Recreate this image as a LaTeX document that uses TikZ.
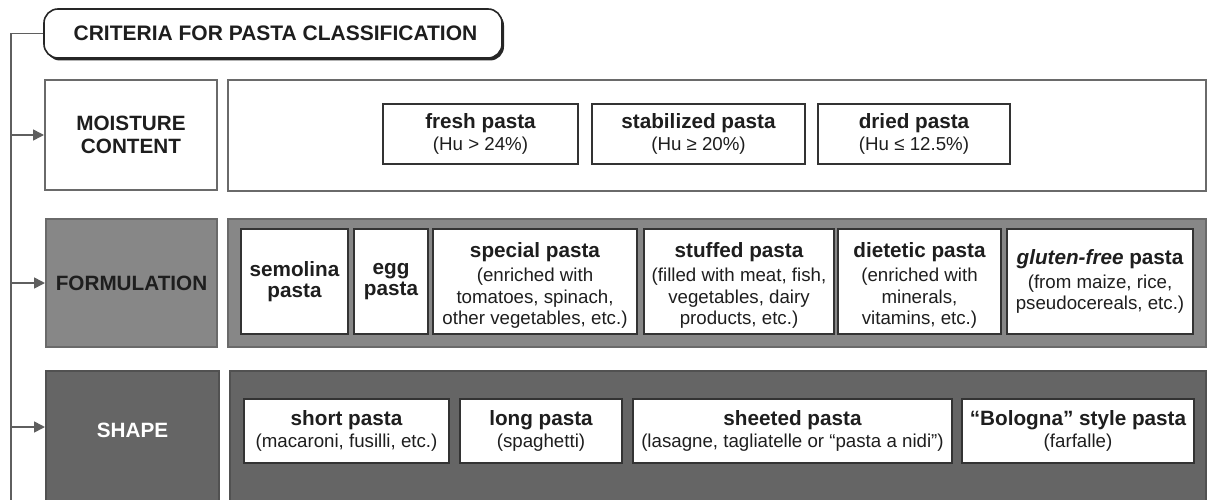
\documentclass[tikz,border=0pt]{standalone}
\usepackage{fontspec}
\setmainfont{Liberation Sans}
\usetikzlibrary{arrows.meta,shadows}
\definecolor{txt}{HTML}{1E1E1E}
\definecolor{edge}{HTML}{6A6A6A}
\definecolor{inedge}{HTML}{333333}
\definecolor{midgray}{HTML}{878787}
\definecolor{dkgray}{HTML}{656565}
\newcommand\subsz{\fontsize{18.7}{21.7}\selectfont}
\newcommand\ttl[1]{{\fontsize{20.7}{24}\selectfont\bfseries #1}}
\begin{document}
\begin{tikzpicture}[x=1pt,y=-1pt,
  outer/.style={draw=edge,line width=2pt,rectangle,inner sep=0pt},
  inbox/.style={draw=inedge,line width=1.3pt,fill=white,rectangle,inner sep=0pt,align=center,text=txt,font=\subsz,
    drop shadow={shadow xshift=1.3pt,shadow yshift=-1.3pt,fill=black,opacity=0.6}},
  intext/.style={inner sep=0pt,align=center,text=txt,font=\subsz},
  lab/.style={font=\fontsize{20.7}{23}\selectfont\bfseries,align=center},
  spine/.style={draw=edge!90!black,line width=1.6pt},
  arr/.style={draw=edge!90!black,fill=edge!90!black,line width=1.6pt,-{Triangle[length=11pt,width=11pt]}},
  ]
\useasboundingbox (0,0) rectangle (1209,500);
\clip (0,0) rectangle (1209,500);
\fill[white] (0,0) rectangle (1209,500);

% title
\node[draw=black!85,line width=1.6pt,rounded corners=14pt,fill=white,minimum width=458pt,minimum height=49pt,
  font=\fontsize{21}{24}\selectfont\bfseries,text=txt,
  drop shadow={shadow xshift=2pt,shadow yshift=-2.5pt,fill=black,opacity=0.85}] (title) at (273,33.5)
  {\hspace*{5pt}CRITERIA FOR PASTA CLASSIFICATION};

% moisture row
\node[outer,fill=white,minimum width=172pt,minimum height=110pt,lab,text=txt] (ml) at (131,135) {MOISTURE\\CONTENT};
\node[outer,fill=white,minimum width=978pt,minimum height=111pt] (mc) at (717,135.5) {};
\node[inbox,minimum width=195pt,minimum height=60pt] (fresh) at (480.5,134) {\ttl{fresh pasta}\\(Hu > 24\%)};
\node[inbox,minimum width=213pt,minimum height=60pt] (stab) at (698.5,134) {\ttl{stabilized pasta}\\(Hu ≥ 20\%)};
\node[inbox,minimum width=192pt,minimum height=60pt] (dried) at (914,134) {\ttl{dried pasta}\\(Hu ≤ 12.5\%)};

% formulation row
\node[outer,fill=midgray,minimum width=171pt,minimum height=128pt,lab,text=txt] (fl) at (131.5,283) {FORMULATION};
\node[outer,fill=midgray,minimum width=978pt,minimum height=128pt] (fc) at (717,283) {};
\node[inbox,minimum width=107pt,minimum height=105pt] (sem) at (294.5,281.5) {\ttl{semolina}\\[0pt]\ttl{pasta}};
\node[inbox,minimum width=74pt,minimum height=105pt] (egg) at (391,281.5) {\ttl{egg}\\[0pt]\ttl{pasta}};
\node[inbox,minimum width=204pt,minimum height=105pt] (spec) at (535,281.5) {};
\node[intext] (spect) at (535,285.5) {\ttl{special pasta}\\[2.3pt](enriched with\\tomatoes, spinach,\\other vegetables, etc.)};
\node[inbox,minimum width=190pt,minimum height=105pt] (stuf) at (739,281.5) {};
\node[intext] (stuft) at (739,285.5) {\ttl{stuffed pasta}\\[2.3pt](filled with meat, fish,\\vegetables, dairy\\products, etc.)};
\node[inbox,minimum width=163pt,minimum height=105pt] (diet) at (919.5,281.5) {};
\node[intext] (dietx) at (919.5,285.5) {\ttl{dietetic pasta}\\[2.3pt](enriched with\\minerals,\\vitamins, etc.)};
\node[inbox,minimum width=186pt,minimum height=105pt] (glut) at (1100,281.5) {\ttl{\itshape gluten-free\upshape{} pasta}\\[2.3pt](from maize, rice,\\pseudocereals, etc.)};

% shape row
\node[outer,draw=dkgray!80!black,fill=dkgray,minimum width=173pt,minimum height=140pt] (sl) at (132.5,441) {};
\node[lab,text=white] (slt) at (132.5,430) {SHAPE};
\node[outer,draw=dkgray!80!black,fill=dkgray,minimum width=976pt,minimum height=140pt] (sc) at (718,441) {};
\node[inbox,minimum width=205pt,minimum height=64pt] (short) at (346.5,431) {\ttl{short pasta}\\(macaroni, fusilli, etc.)};
\node[inbox,minimum width=162pt,minimum height=64pt] (long) at (541,431) {\ttl{long pasta}\\(spaghetti)};
\node[inbox,minimum width=319pt,minimum height=64pt] (sheet) at (792.5,431) {\ttl{sheeted pasta}\\(lasagne, tagliatelle or “pasta a nidi”)};
\node[inbox,minimum width=232pt,minimum height=64pt] (bolo) at (1078,431) {\ttl{“Bologna” style pasta}\\(farfalle)};

% connectors
\coordinate (bot) at (11,510);
\draw[spine] (title.west) -| (bot);
\draw[arr] (ml.west -| bot) -- (ml.west);
\draw[arr] (fl.west -| bot) -- (fl.west);
\coordinate (sa) at (11,427);
\draw[arr] (sa) -- (sa -| sl.west);
\end{tikzpicture}
\end{document}
